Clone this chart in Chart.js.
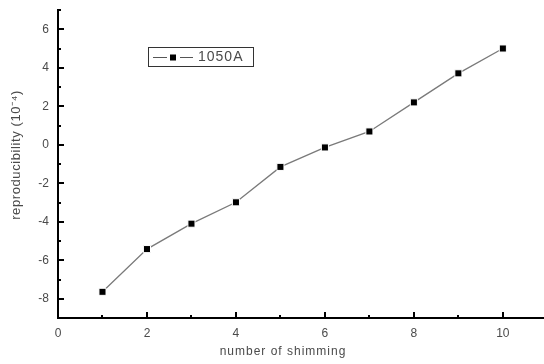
<!DOCTYPE html>
<html>
<head>
<meta charset="utf-8">
<script src="https://cdn.jsdelivr.net/npm/chart.js@4"></script>
<style>
  html, body { margin: 0; padding: 0; background: #fff; }
  #wrap { width: 544px; height: 364px; }
</style>
</head>
<body>
<div id="wrap"><canvas id="chart" width="544" height="364"></canvas></div>
<script>
// data
const shimming = [1, 2, 3, 4, 5, 6, 7, 8, 9, 10]
const reproducibility = [-7.64, -5.42, -4.1, -2.99, -1.15, -0.14, 0.69, 2.2, 3.71, 5.0]
const xTicks = [0, 1, 2, 3, 4, 5, 6, 7, 8, 9, 10]
const yTicks = [-9, -8, -7, -6, -5, -4, -3, -2, -1, 0, 1, 2, 3, 4, 5, 6, 7]
const seriesName = '1050A'

const font = '"Liberation Sans", Arial, sans-serif'
const txt = '#4a4a4a'

// inward ticks, axis titles and framed legend
const decor = {
  id: 'decor',
  afterDraw(chart) {
    const ctx = chart.ctx
    const x = chart.scales.x
    const y = chart.scales.y
    const a = chart.chartArea
    ctx.save()
    ctx.strokeStyle = '#000'
    ctx.lineWidth = 2
    xTicks.forEach(v => {
      const px = Math.round(x.getPixelForValue(v))
      const len = v % 2 === 0 ? 6 : 3
      ctx.beginPath()
      ctx.moveTo(px, a.bottom)
      ctx.lineTo(px, a.bottom - len)
      ctx.stroke()
    })
    yTicks.forEach(v => {
      const py = Math.round(y.getPixelForValue(v))
      const len = v % 2 === 0 ? 6 : 3
      ctx.beginPath()
      ctx.moveTo(a.left, py)
      ctx.lineTo(a.left + len, py)
      ctx.stroke()
    })
    // x axis line runs on to the page edge
    ctx.beginPath()
    ctx.moveTo(a.right, a.bottom)
    ctx.lineTo(chart.width, a.bottom)
    ctx.stroke()

    // axis titles
    ctx.fillStyle = txt
    ctx.font = '12px ' + font
    ctx.textAlign = 'center'
    ctx.textBaseline = 'middle'
    ctx.letterSpacing = '1px'
    ctx.fillText('number of shimming', 283, 352)
    ctx.font = '13px ' + font
    ctx.letterSpacing = '0.6px'
    ctx.translate(16, 155)
    ctx.rotate(-Math.PI / 2)
    ctx.fillText('reproducibility (10\u207B\u2074)', 0, 0)
    ctx.restore()

    // legend box
    ctx.save()
    ctx.strokeStyle = '#333'
    ctx.lineWidth = 1
    ctx.strokeRect(148.5, 47.5, 105, 19)
    ctx.strokeStyle = '#555'
    ctx.beginPath()
    ctx.moveTo(153, 57.5)
    ctx.lineTo(167, 57.5)
    ctx.moveTo(180, 57.5)
    ctx.lineTo(193, 57.5)
    ctx.stroke()
    ctx.fillStyle = '#000'
    ctx.fillRect(170, 54.5, 6, 6)
    ctx.fillStyle = txt
    ctx.font = '14px ' + font
    ctx.textAlign = 'left'
    ctx.textBaseline = 'middle'
    ctx.letterSpacing = '1px'
    ctx.fillText(chart.data.datasets[0].label, 198, 57.5)
    ctx.restore()
  }
}

new Chart(document.getElementById('chart'), {
  type: 'line',
  data: {
    datasets: [
      {
        label: seriesName,
        data: shimming.map((s, i) => ({ x: s, y: reproducibility[i] })),
        borderColor: '#7a7a7a',
        borderWidth: 1.3,
        pointStyle: 'rect',
        pointRadius: 5,
        pointBackgroundColor: '#000',
        pointBorderColor: '#fff',
        pointBorderWidth: 1,
        tension: 0,
      },
    ],
  },
  options: {
    responsive: false,
    animation: false,
    layout: { padding: { top: 10, right: 0, left: 0, bottom: 0 } },
    plugins: {
      legend: { display: false },
      tooltip: { enabled: false },
    },
    scales: {
      x: {
        type: 'linear',
        min: 0,
        max: 10.79,
        afterBuildTicks: s => { s.ticks = xTicks.filter(v => v % 2 === 0).map(v => ({ value: v })) },
        afterFit: s => { s.height = 46; s.paddingLeft = 0; s.paddingRight = 0 },
        grid: { display: false, drawTicks: false },
        border: { display: true, color: '#000', width: 2 },
        ticks: { color: txt, font: { family: font, size: 12 }, padding: 8, maxRotation: 0 },
      },
      y: {
        min: -9,
        max: 7,
        afterBuildTicks: s => { s.ticks = yTicks.filter(v => v % 2 === 0).map(v => ({ value: v })) },
        afterFit: s => { s.width = 58; s.paddingTop = 0; s.paddingBottom = 0 },
        grid: { display: false, drawTicks: false },
        border: { display: true, color: '#000', width: 2 },
        ticks: { color: txt, font: { family: font, size: 12 }, padding: 9 },
      },
    },
  },
  plugins: [decor],
})
</script>
</body>
</html>
